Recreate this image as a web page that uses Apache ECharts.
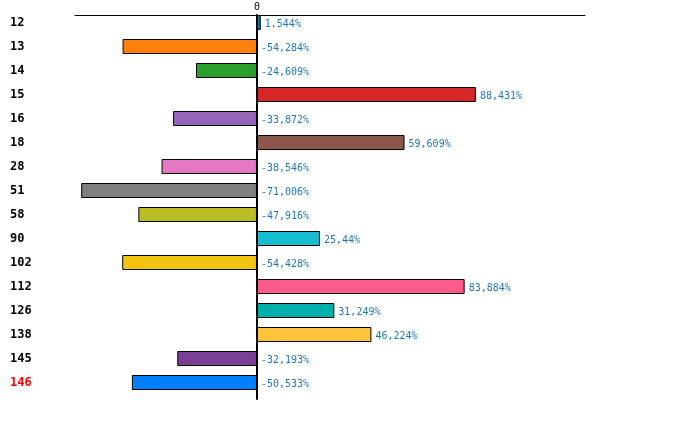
<!DOCTYPE html>
<html>
<head>
<meta charset="utf-8">
<script src="https://cdn.jsdelivr.net/npm/echarts@6/dist/echarts.min.js"></script>
<style>
  html, body { margin: 0; padding: 0; background: #fff; }
  #main { width: 700px; height: 429px; }
</style>
</head>
<body>
<div id="main"></div>
<script>
"use strict";

// 类别（自上而下）
let categories = ['12', '13', '14', '15', '16', '18', '28', '51', '58', '90', '102', '112', '126', '138', '145', '146'];
// 变化百分比
let values = [1.544, -54.284, -24.609, 88.431, -33.872, 59.609, -38.546, -71.006, -47.916, 25.44, -54.428, 83.884, 31.249, 46.224, -32.193, -50.533];
// 每根柱子的颜色
let colors = ['#1f77b4', '#ff7f0e', '#2ca02c', '#d62728', '#9467bd', '#8c564b', '#e377c2', '#7f7f7f',
              '#bcbd22', '#17becf', '#f1c40f', '#ff5a8c', '#00aeaa', '#ffc33b', '#7b3d96', '#007fff'];
// 高亮的类别
let highlight = '146';

// X 轴范围
let x_min = -73.5;
let x_max = 132.5;

let myChart = echarts.init(document.getElementById('main'));

let option = {
    animation: false,
    grid: [
        { // 柱子所在的坐标系
            left: 75, right: 115, top: 10.5, bottom: 34.5,
        },
        { // 只画轴线的坐标系
            left: 75, right: 115, top: 15, bottom: 30,
        },
    ],
    xAxis: [
        {
            gridIndex: 0,
            type: 'value',
            min: x_min,
            max: x_max,
            show: false,
        },
        {
            gridIndex: 1,
            type: 'value',
            position: 'top',
            min: x_min,
            max: x_max,
            axisLine: {
                show: true,
                lineStyle: { color: '#000', width: 1 },
            },
            axisTick: { show: false },
            splitLine: { show: false },
            axisLabel: {
                customValues: [0],
                margin: 3,
                color: '#000',
                fontFamily: 'DejaVu Sans Mono',
                fontSize: 10,
            },
        },
    ],
    yAxis: [
        {
            gridIndex: 0,
            type: 'category',
            data: categories,
            inverse: true,
            axisLine: { show: false, onZero: false },
            axisTick: { show: false },
            axisLabel: {
                align: 'left',
                margin: 65,
                padding: [3, 0, 0, 0],
                fontFamily: 'DejaVu Sans Mono',
                fontWeight: 'bold',
                fontSize: 12,
                color: function (value) {
                    return value === highlight ? '#ff0000' : '#000';
                },
            },
        },
        {
            gridIndex: 1,
            type: 'category',
            data: categories,
            inverse: true,
            axisLine: {
                show: true,
                onZero: true,
                lineStyle: { color: '#000', width: 2 },
            },
            axisTick: { show: false },
            axisLabel: { show: false },
        },
    ],
    series: [
        {
            type: 'bar',
            xAxisIndex: 0,
            yAxisIndex: 0,
            barWidth: 15,
            data: values.map(function (v, i) {
                return {
                    value: v,
                    itemStyle: { color: colors[i] },
                };
            }),
            itemStyle: {
                borderColor: '#000',
                borderWidth: 1,
            },
            label: {
                show: true,
                position: 'right',
                distance: 4,
                offset: [0, 1.5],
                color: '#1f77b4',
                fontFamily: 'DejaVu Sans Mono',
                fontSize: 10,
                formatter: function (p) {
                    return String(p.value).replace('.', ',') + '%';
                },
            },
        },
    ],
};

myChart.setOption(option);
</script>
</body>
</html>
